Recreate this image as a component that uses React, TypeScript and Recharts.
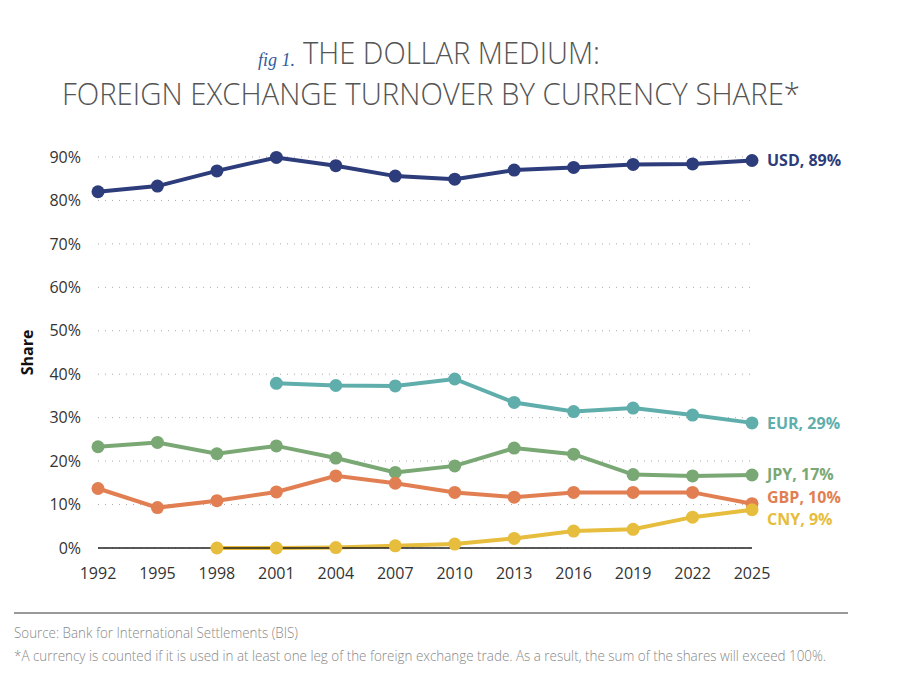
import { LineChart, Line, XAxis, YAxis, CartesianGrid, Label } from 'recharts';

const years = ['1992', '1995', '1998', '2001', '2004', '2007', '2010', '2013', '2016', '2019', '2022', '2025'];
const usd = [82.0, 83.3, 86.8, 89.9, 88.0, 85.6, 84.9, 87.0, 87.6, 88.3, 88.4, 89.2];
const eur = [null, null, null, 37.9, 37.4, 37.3, 38.9, 33.5, 31.4, 32.2, 30.6, 28.8];
const jpy = [23.3, 24.3, 21.7, 23.5, 20.7, 17.4, 18.9, 23.0, 21.6, 16.9, 16.6, 16.8];
const gbp = [13.7, 9.3, 10.9, 12.9, 16.6, 14.9, 12.8, 11.7, 12.8, 12.8, 12.8, 10.2];
const cny = [null, null, 0.0, 0.0, 0.1, 0.5, 0.9, 2.2, 3.9, 4.3, 7.1, 8.8];
const yTicks = [0, 10, 20, 30, 40, 50, 60, 70, 80, 90];

const series = [
  { key: 'USD', values: usd, color: '#2d3c7b', labelDy: 6 },
  { key: 'EUR', values: eur, color: '#60aeac', labelDy: 6 },
  { key: 'JPY', values: jpy, color: '#7aa874', labelDy: 5 },
  { key: 'GBP', values: gbp, color: '#e27f52', labelDy: -1 },
  { key: 'CNY', values: cny, color: '#e6bd3c', labelDy: 15 },
];

const data = years.map((year, i) => {
  const row: Record<string, string | number | null> = { year };
  series.forEach((s) => { row[s.key] = s.values[i]; });
  return row;
});

const font = "'Open Sans', 'Noto Sans', sans-serif";

function EndLabel({ name, color, dy, last }: { name: string; color: string; dy: number; last: number }) {
  return (props: any) => {
    const { x, y, index, value } = props;
    if (index !== last || value == null) return null;
    return (
      <text x={x + 15} y={y + dy} fill={color} fontFamily={font} fontWeight={700} fontSize={16}>
        {`${name}, ${Math.round(value)}%`}
      </text>
    );
  };
}

export default function App() {
  const last = years.length - 1;
  return (
    <div style={{ position: 'absolute', left: 0, top: 0, width: 900, height: 685, background: '#fff' }}>
      <svg width={900} height={685} style={{ position: 'absolute', left: 0, top: 0 }}>
        <text x={258} y={66} fill="#2f5c9e" fontFamily="'Liberation Serif', serif" fontStyle="italic" fontSize={18}>
          fig 1.
        </text>
        <text x={303} y={64} textLength={297} lengthAdjust="spacingAndGlyphs" fill="#555" fontFamily={font} fontWeight={300} fontSize={32}>
          THE DOLLAR MEDIUM:
        </text>
        <text x={62} y={105} textLength={738} lengthAdjust="spacingAndGlyphs" fill="#555" fontFamily={font} fontWeight={300} fontSize={32}>
          FOREIGN EXCHANGE TURNOVER BY CURRENCY SHARE*
        </text>
        <line x1={14} x2={848} y1={613} y2={613} stroke="#999" strokeWidth={2} />
        <text x={14} y={638} textLength={284} lengthAdjust="spacingAndGlyphs" fill="#888" fontFamily={font} fontWeight={300} fontSize={14}>
          Source: Bank for International Settlements (BIS)
        </text>
        <text x={14} y={661} textLength={812} lengthAdjust="spacingAndGlyphs" fill="#888" fontFamily={font} fontWeight={300} fontSize={14}>
          *A currency is counted if it is used in at least one leg of the foreign exchange trade. As a result, the sum of the shares will exceed 100%.
        </text>
      </svg>
      <div style={{ position: 'absolute', left: 0, top: 0 }}>
        <LineChart width={900} height={685} data={data} margin={{ top: 157, right: 148, bottom: 107, left: 38 }}>
          <CartesianGrid vertical={false} stroke="#aaa" strokeDasharray="1 6" />
          <XAxis
            dataKey="year"
            axisLine={{ stroke: '#222', strokeWidth: 1.5 }}
            tickLine={false}
            tickSize={0}
            tickMargin={20}
            height={30}
            tick={{ fill: '#333', fontSize: 16, fontFamily: font }}
            interval={0}
          />
          <YAxis
            type="number"
            domain={[0, 90]}
            ticks={yTicks}
            width={60}
            axisLine={false}
            tickLine={false}
            tickSize={0}
            tickMargin={17}
            tickFormatter={(v) => `${v}%`}
            tick={{ fill: '#333', fontSize: 16, fontFamily: font }}
          >
            <Label value="Share" angle={-90} position="insideLeft" offset={-11} style={{ fill: '#111', fontSize: 16, fontWeight: 700, fontFamily: font, textAnchor: 'middle' }} />
          </YAxis>
          {series.map((s) => (
            <Line
              key={s.key}
              dataKey={s.key}
              stroke={s.color}
              strokeWidth={4}
              dot={{ r: 6.5, fill: s.color, stroke: s.color, strokeWidth: 0 }}
              activeDot={false}
              isAnimationActive={false}
              label={EndLabel({ name: s.key, color: s.color, dy: s.labelDy, last })}
            />
          ))}
        </LineChart>
      </div>
    </div>
  );
}
